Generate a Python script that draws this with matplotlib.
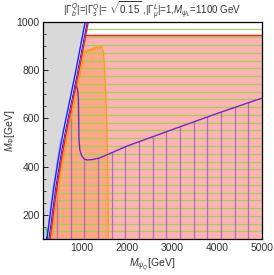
import numpy as np
import matplotlib
matplotlib.use('Agg')
import matplotlib.pyplot as plt
from matplotlib.patches import Polygon
from matplotlib.ticker import MultipleLocator

plt.rcParams['font.family'] = ['Liberation Sans', 'DejaVu Sans']
plt.rcParams['mathtext.fontset'] = 'custom'
plt.rcParams['mathtext.rm'] = 'Liberation Sans'
plt.rcParams['mathtext.it'] = 'Liberation Sans:italic'

x_min, x_max = 150, 5000
y_min, y_max = 100, 1000

# red diagonal boundary (x read at given M_Phi)
diag_y = [100, 200, 300, 430, 524, 738, 1000]
diag_x = [300, 370, 440, 550, 640, 880, 1150]
red_top = 946          # horizontal red boundary

# orange region outline
orange_x = [340, 410, 480, 590, 680, 920, 1035, 1080, 1110, 1140, 1170, 1200, 1230,
            1260, 1290, 1320, 1350, 1380, 1410, 1440, 1470, 1490, 1505, 1520,
            1540, 1555, 1568, 1578, 1585, 1590, 1592]
orange_y = [100, 200, 300, 430, 524, 738, 850, 880, 872, 885, 878, 888, 880,
            893, 885, 897, 888, 900, 890, 898, 885, 860, 820, 760,
            680, 600, 500, 400, 300, 200, 100]

# purple boundary curve
purple_x = [877, 915, 930, 935, 940, 960, 1000, 1060, 1120, 1250, 1410, 2000,
            3000, 4000, 5000]
purple_y = [735, 715, 680, 600, 520, 470, 445, 432, 428, 430, 437, 485,
            553, 620, 684]

# small green edge at the bottom left
green_edge_x = [210, 250]
green_edge_y = [148, 105]

fig = plt.figure(figsize=(2.74, 2.75), dpi=100)
ax = fig.add_axes([0.158, 0.130, 0.798, 0.791])
ax.set_xlim(x_min, x_max)
ax.set_ylim(y_min, y_max)

yy = np.linspace(y_min, y_max, 200)
red_x = np.interp(yy, diag_y, diag_x)
blue1_x = red_x - 70
blue2_x = red_x - 25

# gray excluded area
ax.fill_betweenx(yy, x_min, blue1_x, color='#d9d9d9', lw=0, zorder=1)
# faint blue strip near the bottom
low = yy <= 520
ax.fill_betweenx(yy[low], np.interp(yy[low], [100, 520], [185, 500]),
                 red_x[low], color='#6a6aff', alpha=0.18, lw=0, zorder=1.5)

# pink region
pink = Polygon(list(zip(np.interp(np.linspace(100, red_top, 50), diag_y, diag_x),
                        np.linspace(100, red_top, 50)))
               + [(x_max, red_top), (x_max, y_min)],
               closed=True, facecolor='#ffb3b3', edgecolor='none', zorder=2)
ax.add_patch(pink)

# orange region
orange = Polygon(list(zip(orange_x, orange_y)), closed=True,
                 facecolor='#ff8000', alpha=0.25, edgecolor='none', zorder=3)
ax.add_patch(orange)
ax.plot(orange_x, orange_y, color='#ff9a10', lw=0.9, zorder=6)

# green mesh (horizontal lines)
green_reg = Polygon(list(zip(red_x, yy)) + [(x_max, y_max), (x_max, y_min)],
                    closed=True, facecolor='none', edgecolor='none')
ax.add_patch(green_reg)
g_levels = y_min + (y_max - y_min) * np.arange(1, 28) / 28
gl = ax.hlines(g_levels, x_min, x_max, color='#8fd650', lw=0.9, alpha=0.9, zorder=4)
gl.set_clip_path(green_reg)
ax.plot(green_edge_x, green_edge_y, color='#40d040', lw=1.0, zorder=6)

# purple region with vertical mesh
p_low = np.linspace(100, purple_y[0], 40)
purple_reg = Polygon(list(zip(np.interp(p_low, diag_y, diag_x), p_low))
                     + list(zip(purple_x, purple_y)) + [(x_max, y_min)],
                     closed=True, facecolor='none', edgecolor='none')
ax.add_patch(purple_reg)
p_levels = x_min + (x_max - x_min) * np.arange(1, 16) / 16
vl = ax.vlines(p_levels, y_min, y_max, color='#a050c8', lw=0.9, alpha=0.75, zorder=4)
vl.set_clip_path(purple_reg)
ax.plot(purple_x, purple_y, color='#6a2cc8', lw=1.0, zorder=7)

# boundary lines
ax.plot(blue1_x, yy, color='#1a1aff', lw=1.0, zorder=7)
ax.plot(blue2_x, yy, color='#1a1aff', lw=0.8, zorder=6)
ax.plot(red_x, yy, color='#ff1a1a', lw=1.0, zorder=7)
ax.plot([np.interp(red_top, diag_y, diag_x), x_max], [red_top, red_top],
        color='#ff1a1a', lw=1.0, zorder=7)

ax.xaxis.set_major_locator(MultipleLocator(1000))
ax.xaxis.set_minor_locator(MultipleLocator(200))
ax.yaxis.set_major_locator(MultipleLocator(200))
ax.yaxis.set_minor_locator(MultipleLocator(50))
ax.tick_params(which='both', direction='in', top=False, right=False,
               labelsize=7.5, labelcolor='#333333', pad=2.5)
ax.tick_params(which='major', length=3.5, width=0.6)
ax.tick_params(which='minor', length=2, width=0.5)
for s in ax.spines.values():
    s.set_linewidth(0.9)
    s.set_zorder(10)

ax.set_xlabel(r'$M_{\psi_Q}$[GeV]', fontsize=7.5, color='#333333', labelpad=3)
ax.set_ylabel(r'$M_{\Phi}$[GeV]', fontsize=7.5, color='#333333')
ax.yaxis.set_label_coords(-0.12, 0.5)
ax.set_title(r'$|\Gamma^Q_b|$=$|\Gamma^Q_s|$= $\sqrt{0.15}$ ,$|\Gamma^L_\mu|$=1,$M_{\psi_L}$=1100 GeV',
             fontsize=7, color='#333333', pad=4)

fig.savefig('out.png', dpi=100)
